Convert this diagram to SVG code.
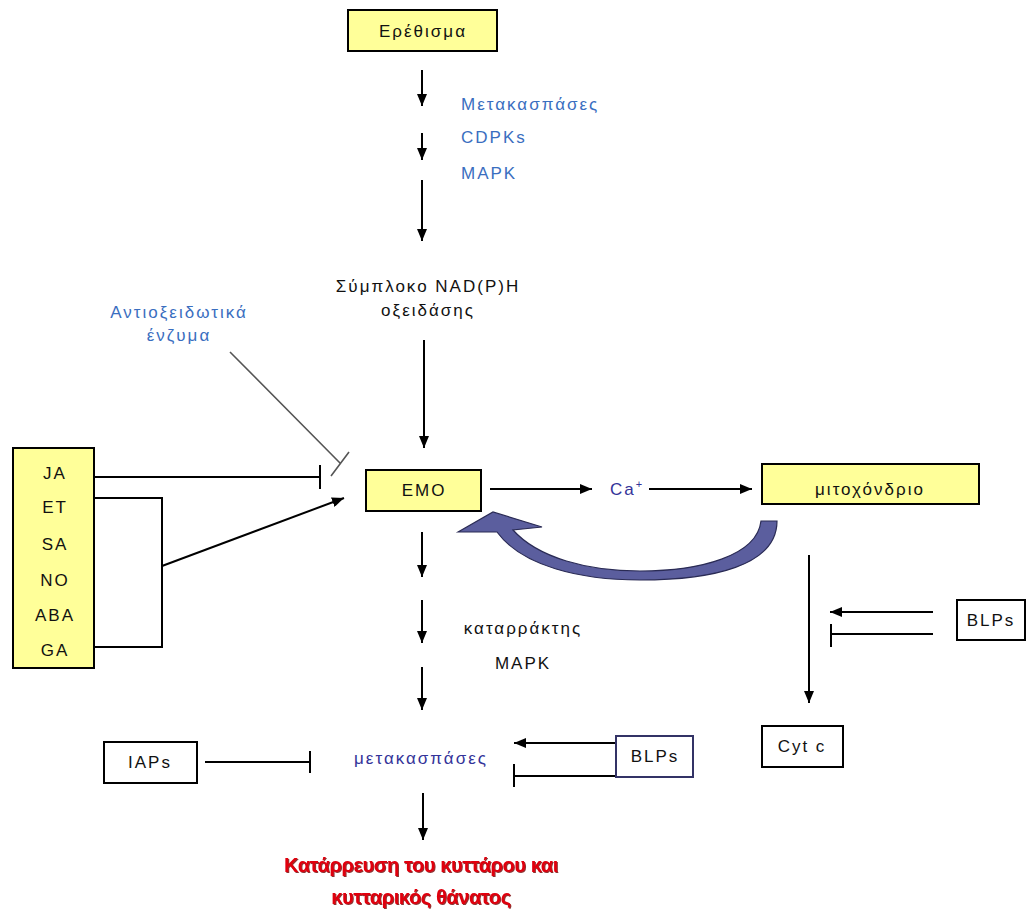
<svg xmlns="http://www.w3.org/2000/svg" width="1030" height="914" viewBox="0 0 1030 914">
<style>
text{font-family:"Liberation Sans",Arial,sans-serif;font-size:17px;letter-spacing:2px;text-anchor:middle}
.box{fill:#FFFF99;stroke:#000;stroke-width:2}
.wbox{fill:#fff;stroke:#000;stroke-width:2}
.nbox{fill:#fff;stroke:#333366;stroke-width:2}
.ln{fill:none;stroke:#000;stroke-width:2}
.arr{fill:none;stroke:#000;stroke-width:2;marker-end:url(#ah)}
.blue{fill:#3A6EC0}
.navy{fill:#333399}
.blk{fill:#111}
.red{fill:#E00010;font-weight:bold;font-size:20px;letter-spacing:-0.4px;filter:url(#sh)}
</style>
<defs>
<marker id="ah" viewBox="0 0 12 10" markerWidth="12" markerHeight="10" refX="12" refY="5" orient="auto" markerUnits="userSpaceOnUse">
<path d="M0,0 L12,5 L0,10 z" fill="#000"/>
</marker>
<filter id="sh" x="-5%" y="-20%" width="110%" height="140%">
<feDropShadow dx="1" dy="1" stdDeviation="0.4" flood-color="#700000" flood-opacity="0.8"/>
</filter>
</defs>
<rect width="1030" height="914" fill="#fff"/>

<g id="connectors">
<line class="arr" x1="422" y1="70" x2="422" y2="106"/>
<line class="arr" x1="422" y1="133" x2="422" y2="160"/>
<line class="arr" x1="422" y1="180" x2="422" y2="241"/>
<line class="arr" x1="424" y1="340" x2="424" y2="448"/>
<line class="arr" x1="422" y1="532" x2="422" y2="577"/>
<line class="arr" x1="422" y1="600" x2="422" y2="643"/>
<line class="arr" x1="422" y1="667" x2="422" y2="710"/>
<line class="arr" x1="423" y1="793" x2="423" y2="840"/>
<line class="arr" x1="490" y1="489" x2="592" y2="489"/>
<line class="arr" x1="649" y1="489" x2="752" y2="489"/>
<line class="arr" x1="809" y1="555" x2="809" y2="703"/>
<line class="arr" x1="933" y1="612" x2="830" y2="612"/>
<path class="ln" d="M933,634 H831 M831,624 V647"/>
<path class="ln" d="M94,477 H320 M320,465 V489"/>
<path class="ln" d="M94,498 H162 V647 H94"/>
<line class="arr" x1="162" y1="566" x2="344" y2="498"/>
<path fill="none" stroke="#555" stroke-width="1.6" d="M230,352 L340,463 M331,476 L349,452"/>
<path class="ln" d="M205,762 H310 M310,751 V773"/>
<line class="arr" x1="616" y1="743" x2="514" y2="743"/>
<path class="ln" d="M616,776 H514 M514,764 V787"/>
<path d="M458,532 L493,512 L542,527 L513,530 C538,558 588,571 640,571 C700,571 757,556 761,521 L777,521 C777,566 712,580 640,580 C580,580 522,566 497,532 Z" fill="#5B5E9E" stroke="#2A2B55" stroke-width="1.2"/>
</g>

<g id="n-erethisma">
<rect class="box" x="348" y="10" width="149" height="41"/>
<text class="blk" x="423" y="37">Ερέθισμα</text>
</g>

<g id="n-labels-top">
<text class="blue" x="461" y="110" style="text-anchor:start">Μετακασπάσες</text>
<text class="blue" x="461" y="143" style="text-anchor:start">CDPKs</text>
<text class="blue" x="461" y="179" style="text-anchor:start">MAPK</text>
</g>

<g id="n-nadph">
<text class="blk" x="428" y="292">Σύμπλοκο NAD(P)H</text>
<text class="blk" x="428" y="316">οξειδάσης</text>
</g>

<g id="n-antiox">
<text class="blue" x="179" y="318">Αντιοξειδωτικά</text>
<text class="blue" x="179" y="341">ένζυμα</text>
</g>

<g id="n-hormones">
<rect class="box" x="13" y="448" width="81" height="220"/>
<text class="blk" x="55" y="479">JA</text>
<text class="blk" x="55" y="513">ET</text>
<text class="blk" x="55" y="550">SA</text>
<text class="blk" x="55" y="586">NO</text>
<text class="blk" x="55" y="621">ABA</text>
<text class="blk" x="55" y="656">GA</text>
</g>

<g id="n-emo">
<rect class="box" x="366" y="470" width="115" height="41"/>
<text class="blk" x="424" y="496">EMO</text>
</g>

<g id="n-ca">
<text class="navy" x="610" y="495" style="text-anchor:start">Ca<tspan font-size="11" dy="-7">+</tspan></text>
</g>

<g id="n-mito">
<rect class="box" x="762" y="464" width="217" height="40"/>
<text class="blk" x="870" y="495">μιτοχόνδριο</text>
</g>

<g id="n-cascade">
<text class="blk" x="523" y="634">καταρράκτης</text>
<text class="blk" x="523" y="669">MAPK</text>
</g>

<g id="n-blps-right">
<rect class="wbox" x="957" y="600" width="68" height="40"/>
<text class="blk" x="991" y="626">BLPs</text>
</g>

<g id="n-cytc">
<rect class="wbox" x="762" y="726" width="81" height="41"/>
<text class="blk" x="802" y="752">Cyt c</text>
</g>

<g id="n-iaps">
<rect class="wbox" x="104" y="742" width="93" height="41"/>
<text class="blk" x="150" y="768">IAPs</text>
</g>

<g id="n-metacaspases">
<text class="navy" x="421" y="764">μετακασπάσες</text>
</g>

<g id="n-blps-bottom">
<rect class="nbox" x="616" y="736" width="77" height="41"/>
<text class="blk" x="655" y="762">BLPs</text>
</g>

<g id="n-death">
<text class="red" x="421" y="872">Κατάρρευση του κυττάρου και</text>
<text class="red" x="421" y="904">κυτταρικός θάνατος</text>
</g>
</svg>
